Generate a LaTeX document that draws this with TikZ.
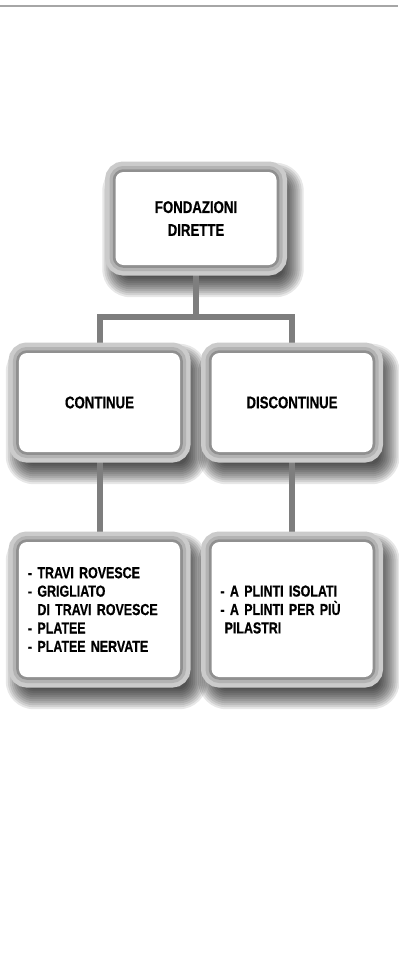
\documentclass[tikz,border=0pt]{standalone}
\usepackage{fontspec}
\setmainfont{Liberation Sans}[FakeStretch=0.78, WordSpace=0.7, BoldFeatures={FakeBold=0.6}]
\pgfdeclarelayer{bglayer}
\pgfdeclarelayer{shadowlayer}
\pgfdeclarelayer{linelayer}
\pgfsetlayers{bglayer,shadowlayer,linelayer,main}
\definecolor{ringA}{HTML}{CBCBCB}
\definecolor{ringB}{HTML}{B3B3B3}
\definecolor{ringC}{HTML}{909090}
\definecolor{linec}{HTML}{7E7E7E}
\definecolor{topline}{HTML}{A6A6A6}
\tikzset{
  fbox/.style={rectangle, rounded corners=8bp, fill=white, inner sep=0pt,
    minimum width=161bp, align=center,
    preaction={draw=ringA, line width=21bp},
    preaction={draw=ringB, line width=12bp},
    preaction={draw=ringC, line width=5.5bp}},
  bigtext/.style={font=\bfseries\fontsize{17}{23}\selectfont},
  listtext/.style={font=\bfseries\fontsize{16}{18.5}\selectfont, text width=143bp,
    align=left, inner xsep=9bp},
  conn/.style={draw=linec, line width=6bp},
  shadowstep/.style={fill=black, fill opacity=0.095}
}
\begin{document}
\begin{tikzpicture}[x=1bp,y=-1bp]
\useasboundingbox (0,0) rectangle (398,977);
\begin{pgfonlayer}{bglayer}
  \fill[white] (0,0) rectangle (398,977);
\end{pgfonlayer}
\draw[topline, line width=2.6bp] (0,6) -- (398,6);

\node[fbox, bigtext, minimum height=93bp] (top) at (196,218.5) {FONDAZIONI\\DIRETTE};
\node[fbox, bigtext, minimum height=99bp] (ml) at (99.5,402.5) {CONTINUE};
\node[fbox, bigtext, minimum height=99bp] (mr) at (292,402.5) {DISCONTINUE};
\node[fbox, listtext, minimum height=135bp] (bl) at (99.5,609.5)
  {- TRAVI ROVESCE\\- GRIGLIATO\\\phantom{- }DI TRAVI ROVESCE\\- PLATEE\\- PLATEE NERVATE};
\node[fbox, listtext, minimum height=135bp] (br) at (292,609.5)
  {- A PLINTI ISOLATI\\- A PLINTI PER PIÙ\\\phantom{-}PILASTRI};

\coordinate (j) at (196,317);

\begin{pgfonlayer}{linelayer}
  \draw[conn] (top) -- (j);
  \draw[conn] (ml) |- (j) -| (mr);
  \draw[conn] (ml) -- (bl);
  \draw[conn] (mr) -- (br);
\end{pgfonlayer}

\begin{pgfonlayer}{shadowlayer}
  \foreach \n in {top,ml,mr,bl,br}{
    \foreach \e in {10,8,...,-10}{
      \pgfmathsetmacro\axs{-3-\e}
      \pgfmathsetmacro\ays{-1+\e}
      \pgfmathsetmacro\bxs{17+\e}
      \pgfmathsetmacro\bys{-22-\e}
      \pgfmathsetmacro\rr{max(18+\e,4)}
      \fill[shadowstep, rounded corners=\rr bp]
        ([xshift=\axs bp,yshift=\ays bp]\n.north west) rectangle
        ([xshift=\bxs bp,yshift=\bys bp]\n.south east);
    }
  }
\end{pgfonlayer}
\end{tikzpicture}
\end{document}
